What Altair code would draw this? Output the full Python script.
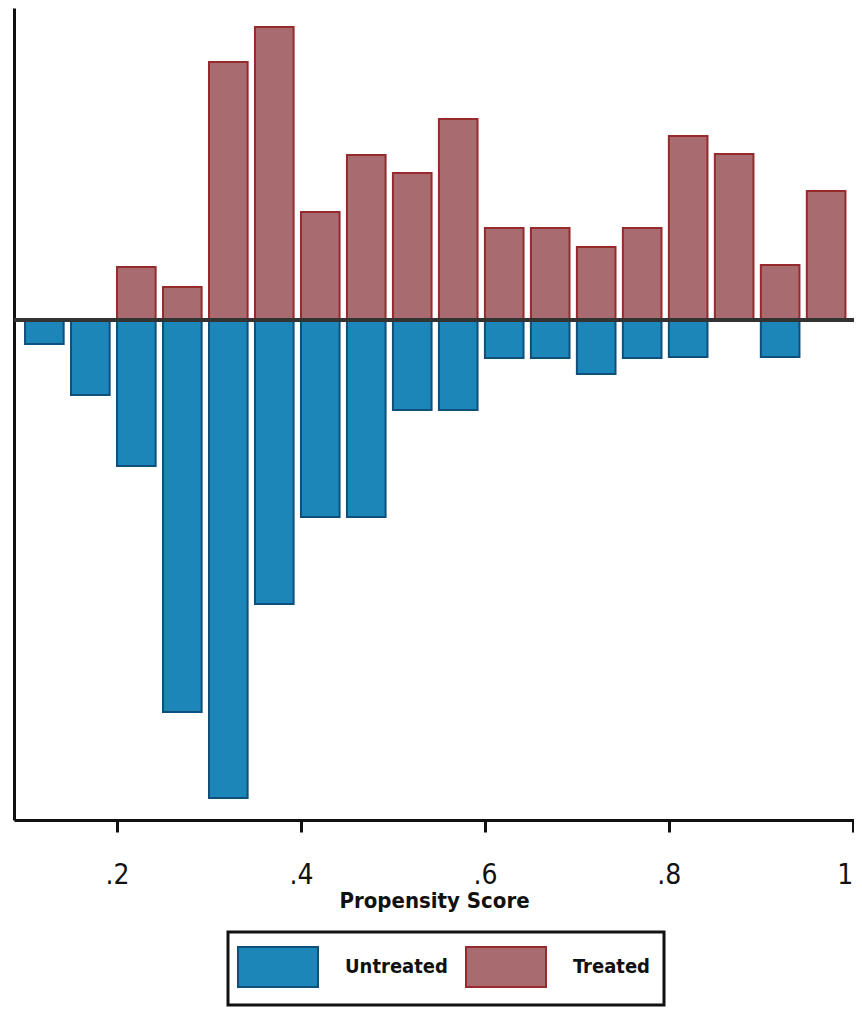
import altair as alt
import pandas as pd

bin_starts = [0.10, 0.15, 0.20, 0.25, 0.30, 0.35, 0.40, 0.45, 0.50, 0.55,
              0.60, 0.65, 0.70, 0.75, 0.80, 0.85, 0.90, 0.95]
treated = [None, None, 0.53, 0.33, 2.58, 2.93, 1.08, 1.65, 1.47, 2.01,
           0.92, 0.92, 0.73, 0.92, 1.84, 1.66, 0.55, 1.29]
untreated = [0.24, 0.75, 1.46, 3.92, 4.78, 2.84, 1.97, 1.97, 0.90, 0.90,
             0.38, 0.38, 0.54, 0.38, 0.37, None, 0.37, None]
groups = ["Untreated", "Treated"]
fills = ["#1d86b9", "#a76b70"]
strokes = ["#0f4f7c", "#962a2c"]
bar_width = 0.042

rows = []
for s, t, u in zip(bin_starts, treated, untreated):
    if u is not None:
        rows.append({"x": s, "x2": s + bar_width, "y": 0.0, "y2": -u, "group": "Untreated"})
    if t is not None:
        rows.append({"x": s, "x2": s + bar_width, "y": 0.0, "y2": t, "group": "Treated"})
df = pd.DataFrame(rows)

FONT = "DejaVu Sans Condensed, Roboto, sans-serif"

xscale = alt.Scale(domain=[0.088, 1.0013], nice=False, zero=False)
yscale = alt.Scale(domain=[-5.0, 3.12], nice=False, zero=False)

bars = alt.Chart(df).mark_rect(strokeWidth=2).encode(
    x=alt.X("x:Q", scale=xscale,
            axis=alt.Axis(values=[0.2, 0.4, 0.6, 0.8, 1.0],
                          labelExpr="datum.value == 1 ? '1' : replace(format(datum.value, '.1f'), '0.', '.')",
                          labelFlush=5,
                          title="Propensity Score", grid=False,
                          domainColor="#111", domainWidth=3,
                          tickColor="#111", tickWidth=3, tickSize=12,
                          labelFont=FONT, labelFontSize=28, labelColor="#111",
                          labelFontWeight="normal", labelPadding=29,
                          titleFont=FONT, titleFontSize=22, titleFontWeight="bold",
                          titleColor="#111", titlePadding=1)),
    x2="x2:Q",
    y=alt.Y("y:Q", scale=yscale,
            axis=alt.Axis(labels=False, ticks=False, grid=False, title=None,
                          domainColor="#111", domainWidth=3)),
    y2="y2:Q",
    fill=alt.Fill("group:N", scale=alt.Scale(domain=groups, range=fills),
                  legend=alt.Legend(title=None, orient="none", legendX=214, legendY=924,
                                    direction="horizontal")),
    stroke=alt.Stroke("group:N", scale=alt.Scale(domain=groups, range=strokes),
                      legend=alt.Legend(title=None, orient="none", legendX=214, legendY=924,
                                        direction="horizontal")),
)

zero = alt.Chart(df).mark_rule(color="#333", strokeWidth=3).encode(
    y=alt.datum(0, type="quantitative", scale=yscale)
)

chart = alt.layer(bars, zero).properties(
    width=840, height=812,
    autosize=alt.AutoSizeParams(type="none"),
    padding={"left": 6, "top": 0, "right": 0, "bottom": 187},
).configure_view(stroke=None).configure_legend(
    symbolType="M-2,-1H2V1H-2Z",
    symbolSize=1600,
    symbolStrokeWidth=2,
    symbolOpacity=1,
    symbolOffset=15,
    labelFont=FONT, labelFontSize=20, labelFontWeight="bold", labelColor="#111",
    labelOffset=46,
    columnPadding=14,
    padding=14,
    strokeColor="#111",
    strokeWidth=3,
    fillColor="white",
)

chart.save("out.html", embed_options={"renderer": "svg", "actions": False})
